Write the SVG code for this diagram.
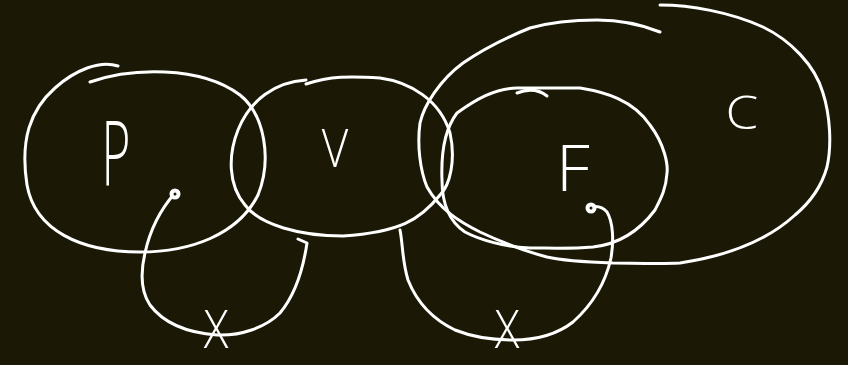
<svg xmlns="http://www.w3.org/2000/svg" width="848" height="365" viewBox="0 0 848 365">
<style>
.s{fill:none;stroke:#fff;stroke-width:3;stroke-linecap:round;stroke-linejoin:round}
.t{fill:#fff;font-family:"Open Sans","Liberation Sans",sans-serif;font-weight:300;text-anchor:middle}
.dot{fill:#1b1906;stroke:#fff;stroke-width:4}
</style>
<rect width="848" height="365" fill="#1b1906"/>
<g id="node-P">
<path class="s" d="M90 82 C130 68 200 65 240 95 C265 115 272 160 258 195 C238 235 190 252 140 252 C80 252 35 230 27 185 C20 140 30 110 55 88 C75 70 100 60 118 66"/>
<text class="t" transform="translate(116 186) scale(0.55 1)" font-size="90">P</text>
</g>
<g id="node-V">
<path class="s" d="M306 84 C330 76 350 76 380 78 C410 82 440 100 450 133 C456 160 450 185 440 195 C420 220 400 232 343 236 C300 236 260 225 245 205 C228 185 228 155 238 130 C250 100 275 82 306 80"/>
<text class="t" transform="translate(335 167) scale(0.85 1)" font-size="54">V</text>
</g>
<g id="node-F">
<path class="s" d="M457 113 C475 100 495 88 517 88 L580 88 C605 92 633 100 650 125 C665 145 668 165 667 173 C666 190 660 200 655 210 C640 230 620 244 593 247 C570 249 550 248 530 248 C505 247 480 240 465 232 C450 222 442 205 442 180 C441 155 444 130 457 113"/>
<path class="s" d="M517 93 C527 89 537 88 547 96"/>
<text class="t" transform="translate(573 191) scale(1.05 1)" font-size="64">F</text>
</g>
<g id="node-C">
<path class="s" d="M660 5 C690 5 730 12 763 27 C790 40 815 65 823 93 C830 115 832 145 827 167 C822 185 813 200 795 215 C770 238 733 255 680 263 C660 264 630 263 613 263 C585 262 560 260 547 257 C520 250 497 240 480 232 C460 222 440 210 427 187 C420 170 417 145 420 123 C424 105 440 80 463 63 C485 48 505 38 530 28 C555 21 580 20 597 20 C620 20 640 24 660 32"/>
<text class="t" transform="translate(742 129) scale(1.15 1)" font-size="46">C</text>
</g>
<g id="connectors">
<path class="s" d="M175 193 C160 210 150 230 145 253 C141 270 140 290 150 305 C165 325 190 333 217 335 C240 336 265 328 280 313 C295 295 303 270 307 243 L298 239"/>
<circle class="dot" cx="175" cy="194" r="3.5"/>
<text class="t" transform="translate(216 348) scale(0.85 1)" font-size="54">X</text>
<path class="s" d="M400 230 C403 245 402 260 408 280 C416 300 430 318 455 330 C475 338 495 340 513 340 C535 340 555 336 573 322 C592 305 605 285 611 258 C614 240 613 222 607 212 C602 206 596 206 591 207"/>
<circle class="dot" cx="591" cy="208" r="3.5"/>
<text class="t" transform="translate(507 348) scale(0.85 1)" font-size="54">X</text>
</g>
</svg>
